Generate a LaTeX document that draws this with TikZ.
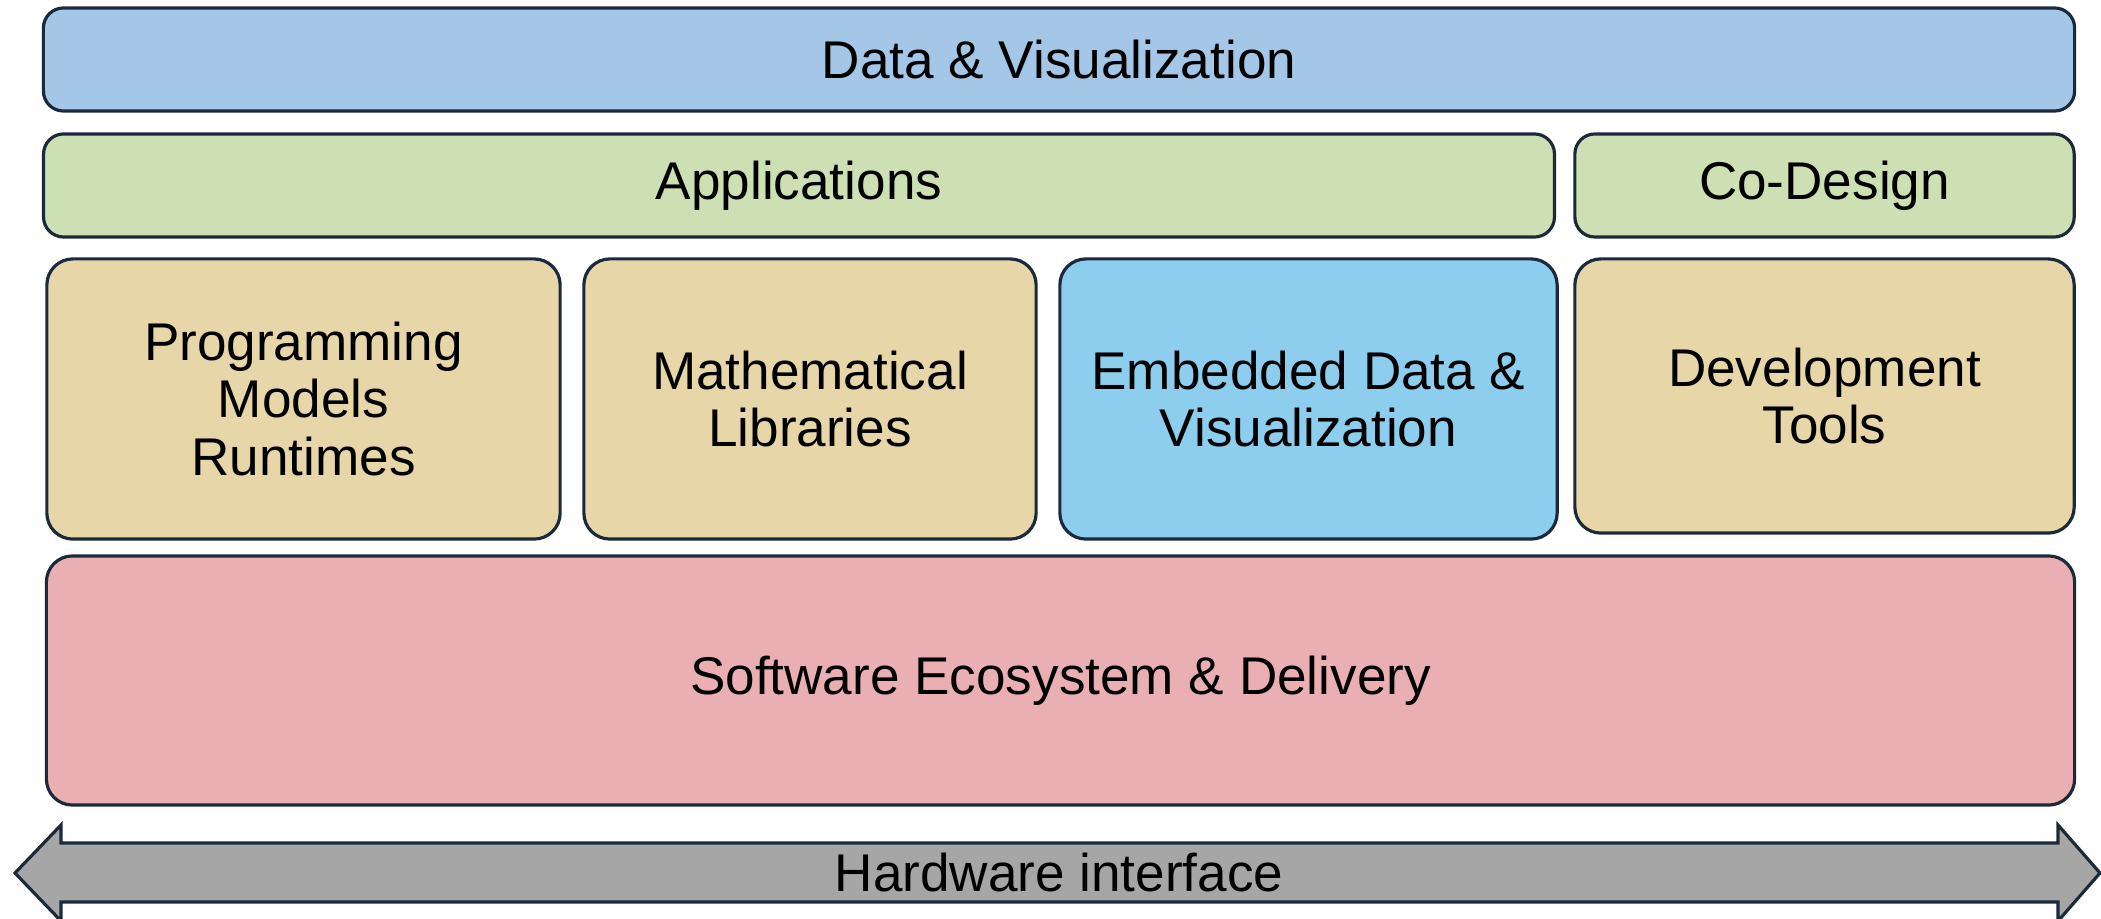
\documentclass[tikz,border=0pt]{standalone}
\usepackage{fontspec}
\setmainfont{Liberation Sans}
\definecolor{datablue}{HTML}{A4C6E7}
\definecolor{appgreen}{HTML}{CDE0B4}
\definecolor{tooltan}{HTML}{E6D6A8}
\definecolor{embedblue}{HTML}{8DCDED}
\definecolor{ecopink}{HTML}{EAAFB3}
\definecolor{hwgray}{HTML}{A6A6A6}
\definecolor{edgenavy}{HTML}{1B2A3A}
\tikzset{
  layer/.style={draw=edgenavy, line width=0.9pt, rounded corners=0.2cm,
    align=center, inner sep=0pt,
    font=\fontsize{15.1}{16.4}\selectfont},
  block/.style={layer, rounded corners=0.26cm, minimum height=2.80cm}
}
\begin{document}
\begin{tikzpicture}[x=0.01cm, y=-0.01cm]
  \useasboundingbox (0,0) rectangle (2101,919);
  % top rows
  \node[layer, fill=datablue, minimum width=20.30cm, minimum height=1.03cm] (data) at (1059,59.5) {Data \& Visualization};
  \node[layer, fill=appgreen, minimum width=15.10cm, minimum height=1.03cm] (apps) at (799,185.5) {Applications};
  \node[layer, fill=appgreen, minimum width=4.99cm, minimum height=1.03cm] (codesign) at (1824.5,185.5) {Co-Design};
  % middle blocks
  \node[block, fill=tooltan, minimum width=5.13cm] (prog) at (303.5,399) {Programming\\Models\\Runtimes};
  \node[block, fill=tooltan, minimum width=4.52cm] (math) at (810,399) {Mathematical\\Libraries};
  \node[block, fill=embedblue, minimum width=4.97cm] (embed) at (1308.5,399) {Embedded Data \&\\Visualization};
  \node[block, fill=tooltan, minimum width=4.99cm, minimum height=2.74cm] (devtools) at (1824.5,396) {Development\\Tools};
  % ecosystem
  \node[layer, rounded corners=0.26cm, fill=ecopink, minimum width=20.27cm, minimum height=2.49cm] (eco) at (1060.5,680.5) {Software Ecosystem \& Delivery};
  % hardware arrow
  \filldraw[fill=hwgray, draw=edgenavy, line width=0.9pt, line join=miter]
    (15,873) -- (61,825) -- (61,843) -- (2058,843) -- (2058,825) -- (2100,873)
    -- (2058,921) -- (2058,902) -- (61,902) -- (61,921) -- cycle;
  \node[font=\fontsize{15.1}{16.4}\selectfont] (hw) at (1059,873) {Hardware interface};
\end{tikzpicture}
\end{document}
